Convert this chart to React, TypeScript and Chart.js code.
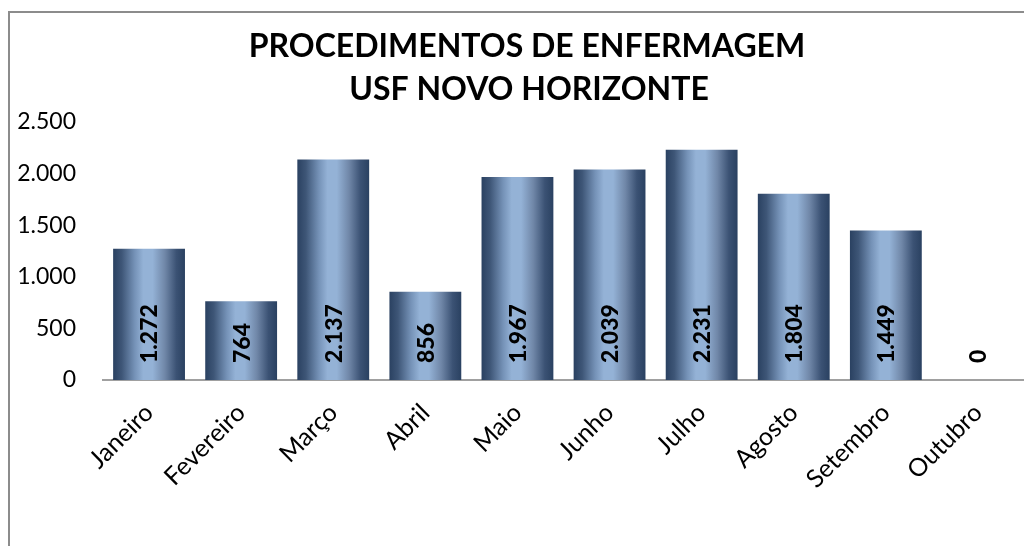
import React, { useEffect, useRef } from "react";
import { Chart, registerables } from "chart.js";

Chart.register(...registerables);

const titleLines = ["PROCEDIMENTOS DE ENFERMAGEM", "USF NOVO HORIZONTE"];
const months = ["Janeiro", "Fevereiro", "Março", "Abril", "Maio", "Junho", "Julho", "Agosto", "Setembro", "Outubro"];
const procedures = [1272, 764, 2137, 856, 1967, 2039, 2231, 1804, 1449, 0];
const yTicks = [0, 500, 1000, 1500, 2000, 2500];

const FONT = "Lato, 'Noto Sans', sans-serif";
const BAR_PCT = 0.78;

function fmt(n: number): string {
  return String(Math.round(n)).replace(/\B(?=(\d{3})+(?!\d))/g, ".");
}

const framePlugin = {
  id: "frame",
  beforeDraw(chart: any) {
    const ctx = chart.ctx;
    ctx.save();
    ctx.fillStyle = "#ffffff";
    ctx.fillRect(0, 0, chart.width, chart.height);
    ctx.fillStyle = "#8c8c8c";
    ctx.fillRect(8, 11, chart.width - 8, 2);
    ctx.fillRect(8, 11, 2, chart.height - 11);
    ctx.restore();
  },
  afterDraw(chart: any) {
    const ctx = chart.ctx;
    ctx.save();
    ctx.fillStyle = "#000";
    ctx.font = `bold 32px ${FONT}`;
    ctx.textAlign = "center";
    ctx.textBaseline = "alphabetic";
    ctx.fillText(titleLines[0], 527, 57);
    ctx.fillText(titleLines[1], 529, 100);
    ctx.restore();
  },
};

const valueLabelPlugin = {
  id: "valueLabels",
  afterDatasetsDraw(chart: any) {
    const ctx = chart.ctx;
    const meta = chart.getDatasetMeta(0);
    const base = chart.scales.y.getPixelForValue(0);
    ctx.save();
    ctx.fillStyle = "#000";
    ctx.font = `900 23px ${FONT}`;
    ctx.textAlign = "left";
    ctx.textBaseline = "middle";
    meta.data.forEach((el: any, i: number) => {
      ctx.save();
      ctx.translate(el.x, base - 17);
      ctx.rotate(-Math.PI / 2);
      ctx.fillText(fmt(procedures[i]), 0, 1);
      ctx.restore();
    });
    ctx.restore();
  },
};

function barGradient(c: any) {
  const chart = c.chart;
  const xs = chart.scales && chart.scales.x;
  const area = chart.chartArea;
  if (!xs || !area || c.dataIndex === undefined) return "#95b3d7";
  const cx = xs.getPixelForValue(c.dataIndex);
  const w = ((area.right - area.left) / months.length) * BAR_PCT;
  const g = chart.ctx.createLinearGradient(cx - w / 2, 0, cx + w / 2, 0);
  g.addColorStop(0, "#2a4161");
  g.addColorStop(0.12, "#3e5677");
  g.addColorStop(0.3, "#7592b7");
  g.addColorStop(0.42, "#94b2d6");
  g.addColorStop(0.55, "#94b2d6");
  g.addColorStop(0.72, "#7087a8");
  g.addColorStop(0.88, "#3b5274");
  g.addColorStop(1, "#2a4161");
  return g;
}

export default function App() {
  const ref = useRef<HTMLCanvasElement | null>(null);
  useEffect(() => {
    if (!ref.current) return;
    const chart = new Chart(ref.current, {
      type: "bar",
      data: {
        labels: months,
        datasets: [
          {
            data: procedures,
            backgroundColor: barGradient,
            borderWidth: 0,
            barPercentage: BAR_PCT,
            categoryPercentage: 1,
          },
        ],
      },
      options: {
        animation: false,
        responsive: false,
        devicePixelRatio: 1,
        layout: { padding: { top: 122, left: 0, right: 0, bottom: 0 } },
        plugins: {
          legend: { display: false },
          title: { display: false },
          tooltip: { enabled: false },
        },
        scales: {
          x: {
            grid: { display: false, drawTicks: false },
            border: { display: true, color: "#a0a0a0", width: 2 },
            ticks: {
              color: "#000",
              font: { family: FONT, size: 25 },
              minRotation: 45,
              maxRotation: 45,
              padding: 18,
              autoSkip: false,
            },
            afterFit(scale: any) {
              scale.height = 166;
            },
          },
          y: {
            min: 0,
            max: 2500,
            grid: { display: false, drawTicks: false },
            border: { display: false },
            afterBuildTicks(scale: any) {
              scale.ticks = yTicks.map((v) => ({ value: v }));
            },
            ticks: {
              color: "#000",
              font: { family: FONT, size: 23 },
              padding: 27,
              callback: (v: any) => fmt(Number(v)),
            },
            afterFit(scale: any) {
              scale.width = 103;
            },
          },
        },
      },
      plugins: [framePlugin, valueLabelPlugin],
    });
    return () => chart.destroy();
  }, []);
  return (
    <canvas
      ref={ref}
      width={1024}
      height={546}
      style={{ position: "fixed", left: 0, top: 0, width: 1024, height: 546 }}
    />
  );
}
